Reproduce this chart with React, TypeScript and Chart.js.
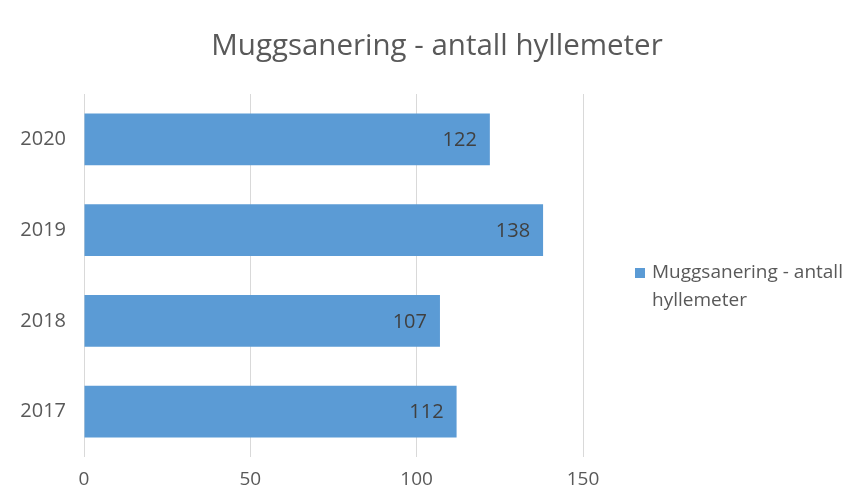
import React, { useEffect, useRef } from "react";
import { Chart, registerables } from "chart.js";

Chart.register(...registerables);

const TITLE = "Muggsanering - antall hyllemeter";
const SERIES_NAME = "Muggsanering - antall hyllemeter";
const LEGEND_LINES = ["Muggsanering - antall", "hyllemeter"];
const categories = ["2020", "2019", "2018", "2017"];
const values = [122, 138, 107, 112];
const xTicks = [0, 50, 100, 150];

const FONT = "'Open Sans', 'Noto Sans', sans-serif";
const BAR_COLOR = "#5b9bd5";
const TEXT_COLOR = "#595959";

export default function App() {
  const ref = useRef<HTMLCanvasElement | null>(null);

  useEffect(() => {
    if (!ref.current) return;
    const extras = {
      id: "extras",
      afterDatasetsDraw(chart: any) {
        const ctx = chart.ctx;
        const ca = chart.chartArea;
        ctx.save();
        // data labels
        const meta = chart.getDatasetMeta(0);
        ctx.font = `20px ${FONT}`;
        ctx.fillStyle = "#404040";
        ctx.textAlign = "right";
        ctx.textBaseline = "middle";
        meta.data.forEach((bar: any, i: number) => {
          ctx.fillText(String(values[i]), bar.x - 13, bar.y + 1);
        });
        // title
        ctx.font = `29.5px ${FONT}`;
        ctx.fillStyle = TEXT_COLOR;
        ctx.textAlign = "center";
        ctx.fillText(TITLE, 437, 47);
        // legend
        const lx = ca.right + 52;
        const ly = 273;
        ctx.fillStyle = BAR_COLOR;
        ctx.fillRect(lx, ly - 5, 10, 10);
        ctx.fillStyle = TEXT_COLOR;
        ctx.font = `19px ${FONT}`;
        ctx.textAlign = "left";
        LEGEND_LINES.forEach((line, i) => {
          ctx.fillText(line, lx + 17, ly + i * 28);
        });
        ctx.restore();
      },
    };
    const chart = new Chart(ref.current, {
      type: "bar",
      data: {
        labels: categories,
        datasets: [
          {
            label: SERIES_NAME,
            data: values,
            backgroundColor: BAR_COLOR,
            borderWidth: 0,
            barPercentage: 0.57,
            categoryPercentage: 1,
          },
        ],
      },
      options: {
        indexAxis: "y",
        animation: false,
        responsive: false,
        maintainAspectRatio: false,
        layout: { padding: { top: 94, right: 264, left: 0, bottom: 0 } },
        plugins: {
          legend: { display: false },
          title: { display: false },
          tooltip: { enabled: false },
        },
        scales: {
          x: {
            min: 0,
            max: 150,
            afterBuildTicks: (s: any) => {
              s.ticks = xTicks.map((v) => ({ value: v }));
            },
            afterFit: (s: any) => {
              s.height = 34;
            },
            grid: { color: "#d9d9d9", drawTicks: false },
            border: { display: false },
            ticks: {
              color: TEXT_COLOR,
              font: { family: FONT, size: 19 },
              padding: 11,
            },
          },
          y: {
            afterFit: (s: any) => {
              s.width = 84;
            },
            grid: { display: false, drawTicks: false },
            border: { display: false },
            ticks: {
              color: TEXT_COLOR,
              font: { family: FONT, size: 20 },
              padding: 18,
            },
          },
        },
      },
      plugins: [extras],
    });
    return () => chart.destroy();
  }, []);

  return (
    <div style={{ position: "fixed", left: 0, top: 0, width: 847, height: 491, background: "#ffffff" }}>
      <canvas ref={ref} width={847} height={491} style={{ display: "block" }} />
    </div>
  );
}
